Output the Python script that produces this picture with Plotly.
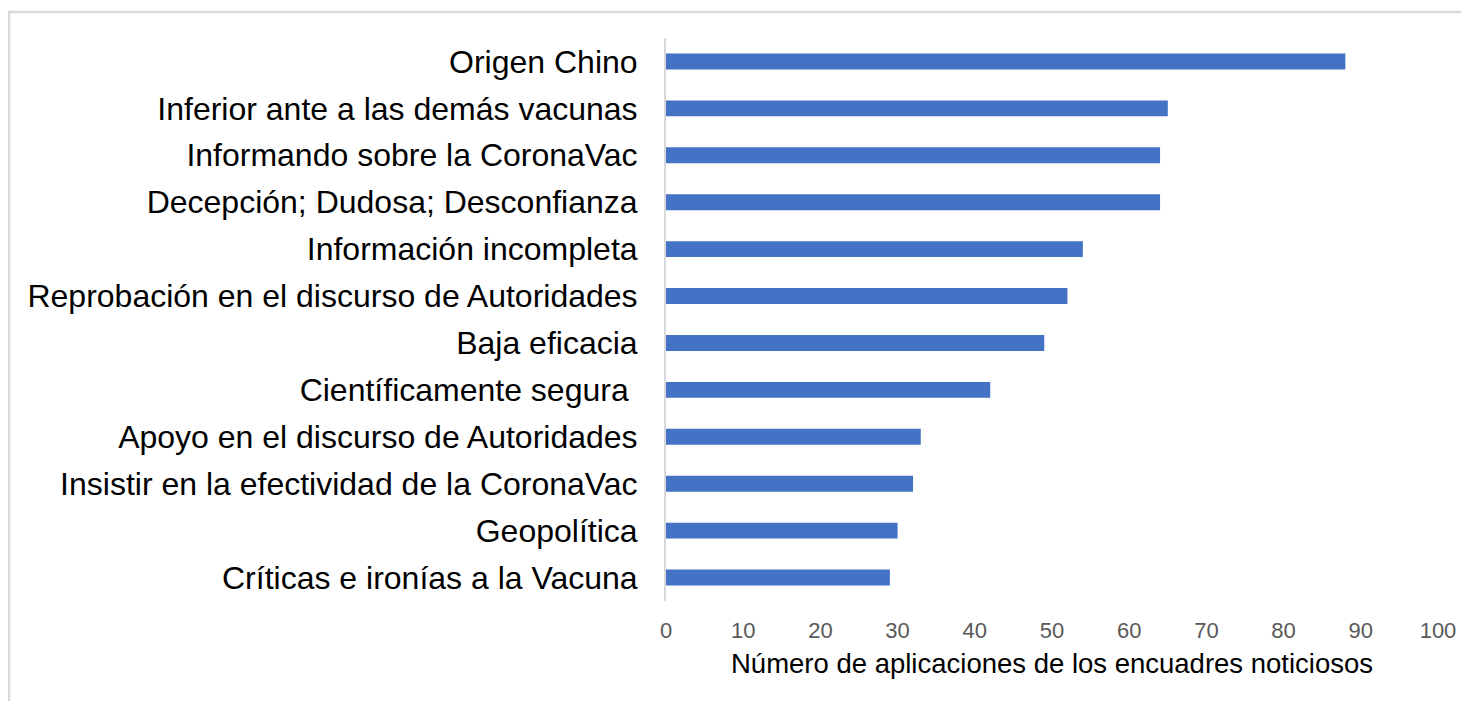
import plotly.graph_objects as go

categories = [
    "Origen Chino",
    "Inferior ante a las demás vacunas",
    "Informando sobre la CoronaVac",
    "Decepción; Dudosa; Desconfianza",
    "Información incompleta",
    "Reprobación en el discurso de Autoridades",
    "Baja eficacia",
    "Científicamente segura\u00a0",
    "Apoyo en el discurso de Autoridades",
    "Insistir en la efectividad de la CoronaVac",
    "Geopolítica",
    "Críticas e ironías a la Vacuna",
]
values = [88, 65, 64, 64, 54, 52, 49, 42, 33, 32, 30, 29]
x_ticks = [0, 10, 20, 30, 40, 50, 60, 70, 80, 90, 100]
x_title = "Número de aplicaciones de los encuadres noticiosos"

# page has an 8px body margin; figure placed at (8, 8)
OFF = 8
W, H = 1469 - OFF, 701 - OFF
L, R, T, B = 666 - OFF, 31, 38 - OFF, 100
pw, ph = W - L - R, H - T - B

def px(xp):
    return (xp - OFF - L) / pw

def py(yp):
    return (H - B - (yp - OFF)) / ph

FONT = "Liberation Sans, Arial, sans-serif"

fig = go.Figure(go.Bar(
    x=values, y=categories, orientation="h",
    marker=dict(color="#4472C4", line=dict(width=0)),
    width=0.34,
))

fig.update_layout(
    width=W, height=H,
    margin=dict(l=L, r=R, t=T, b=B, autoexpand=False),
    paper_bgcolor="white", plot_bgcolor="white",
    showlegend=False,
    font=dict(family=FONT),
    xaxis=dict(
        range=[0, 100], tickvals=x_ticks, showgrid=False, zeroline=False,
        showline=False, ticks="", ticklabelstandoff=14,
        tickfont=dict(size=22, color="#595959", family=FONT),
        fixedrange=True,
    ),
    yaxis=dict(
        autorange="reversed", showgrid=False, zeroline=False,
        showline=True, linecolor="#d9d9d9", linewidth=2,
        ticks="", ticklabelstandoff=20,
        tickfont=dict(size=32, color="#000000", family=FONT),
        fixedrange=True,
    ),
    annotations=[dict(
        text=x_title, xref="paper", yref="paper",
        x=0.5, y=py(663), xanchor="center", yanchor="middle",
        showarrow=False, font=dict(size=27.5, color="#000000", family=FONT),
    )],
    shapes=[
        dict(type="line", xref="paper", yref="paper",
             x0=px(8), x1=px(1475), y0=py(12), y1=py(12),
             line=dict(color="#d9d9d9", width=2.5)),
        dict(type="line", xref="paper", yref="paper",
             x0=px(9), x1=px(9), y0=py(12), y1=py(710),
             line=dict(color="#d9d9d9", width=2.5)),
    ],
)

fig.write_html("out.html", config={"displayModeBar": False})
